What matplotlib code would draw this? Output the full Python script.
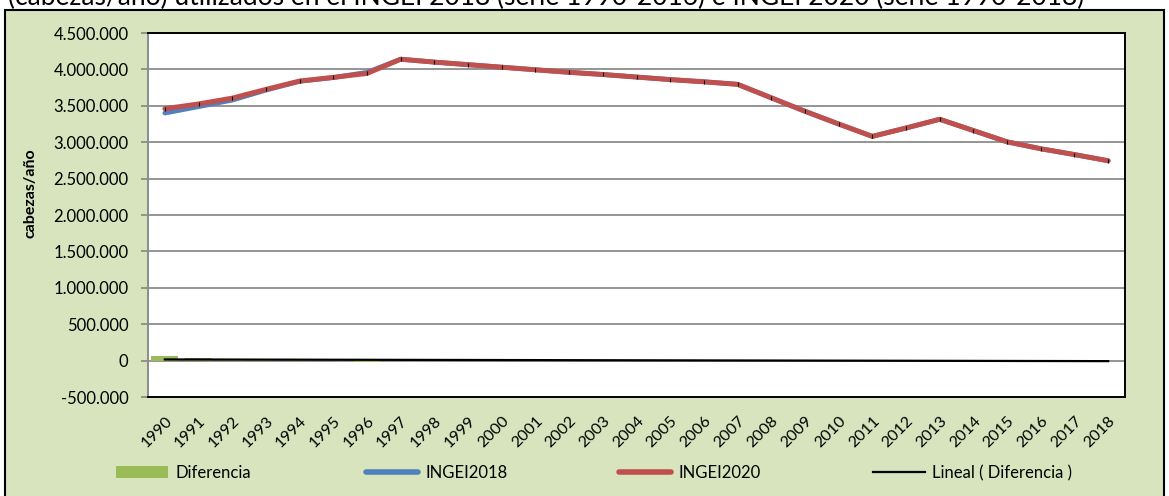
import matplotlib.pyplot as plt
import matplotlib.patches as mpatches
from matplotlib.lines import Line2D
from matplotlib.ticker import FuncFormatter
import numpy as np

plt.rcParams['font.family'] = ['Lato', 'DejaVu Sans']

years = [str(y) for y in range(1990, 2019)]
ingei2020 = [3460000, 3525000, 3605000, 3725000, 3840000, 3890000, 3945000, 4140000,
             4100000, 4065000, 4030000, 3995000, 3960000, 3930000, 3895000, 3860000,
             3830000, 3795000, 3610000, 3425000, 3250000, 3080000, 3195000, 3315000,
             3160000, 3005000, 2910000, 2830000, 2745000]
ingei2018 = [3400000, 3488000, 3578000, 3715000, 3836000, 3888000, 3960000, 4140000,
             4100000, 4065000, 4030000, 3995000, 3960000, 3930000, 3895000, 3860000,
             3830000, 3795000, 3610000, 3425000, 3250000, 3080000, 3195000, 3315000,
             3160000, 3005000, 2910000, 2830000, 2745000]
diferencia = [60000, 37000, 27000, 10000, 4000, 2000, -15000, 0,
              0, 0, 0, 0, 0, 0, 0, 0, 0, 0, 0, 0, 0, 0, 0, 0, 0, 0, 0, 0, 0]
yticks = list(range(-500000, 4500001, 500000))

BG = '#D7E4BD'
GREEN = '#9BBB59'
BLUE = '#4F81BD'
RED = '#C0504D'
GRID = '#8C8C8C'

fig = plt.figure(figsize=(11.69, 4.96), dpi=100)
fig.patch.set_facecolor('white')

# chart area box (behind the axes)
W, H = 1169, 496
fig.add_artist(mpatches.Rectangle((5 / W, -0.01), (1164 - 5) / W, (H - 10) / H + 0.01,
                                  transform=fig.transFigure, facecolor=BG,
                                  edgecolor='black', linewidth=1.5, zorder=-1))

fig.text(8 / W, 1 - 5 / H,
         '(cabezas/año) utilizados en el INGEI 2018 (serie 1990-2016) e INGEI 2020 (serie 1990-2018)',
         fontsize=19, va='baseline', ha='left')

ax = fig.add_axes([148 / W, 99 / H, 977 / W, 364 / H])
ax.set_facecolor('white')

x = np.arange(len(years))
ax.bar(x, diferencia, width=0.8, color=GREEN, zorder=2)
ax.plot(x, ingei2018, color=BLUE, lw=3.4, zorder=3, solid_capstyle='round')
ax.plot(x, ingei2020, color=RED, lw=3.6, zorder=4, solid_capstyle='round',
        marker='|', ms=2.2, mec='black', mew=0.8)

coef = np.polyfit(x, diferencia, 1)
ax.plot(x, np.polyval(coef, x), color='black', lw=1.6, zorder=5)

ax.set_xlim(-0.5, len(years) - 0.5)
ax.set_ylim(-500000, 4500000)
ax.set_yticks(yticks)
ax.yaxis.set_major_formatter(FuncFormatter(lambda v, p: f'{int(v):,}'.replace(',', '.')))
ax.grid(axis='y', color=GRID, lw=1.3, zorder=1)
ax.set_axisbelow(True)

ax.set_xticks(x)
ax.set_xticklabels(years, rotation=45, ha='right', va='top', rotation_mode='anchor')
ax.tick_params(axis='x', length=0, pad=12, labelsize=11.5)
ax.tick_params(axis='y', length=5, color=GRID, width=1.3, pad=9, labelsize=12)

for s in ['top', 'right', 'bottom']:
    ax.spines[s].set_color('black')
    ax.spines[s].set_linewidth(1.4)
ax.spines['left'].set_color(GRID)
ax.spines['left'].set_linewidth(1.4)

ax.set_ylabel('cabezas/año', fontsize=11.5, fontweight='bold')
ax.yaxis.set_label_coords(-(148 - 37) / 977, 0.56)

# legend entries, evenly spaced like the spreadsheet layout
handles = [
    (mpatches.Patch(facecolor=GREEN), 'Diferencia', 116),
    (Line2D([], [], color=BLUE, lw=4, solid_capstyle='round'), 'INGEI2018', 366),
    (Line2D([], [], color=RED, lw=4, solid_capstyle='round'), 'INGEI2020', 619),
    (Line2D([], [], color='black', lw=1.6), 'Lineal ( Diferencia )', 873),
]
for h, lab, px in handles:
    fig.legend([h], [lab], loc='center left', bbox_to_anchor=(px / W, (H - 473) / H),
               frameon=False, fontsize=12, handlelength=3.1, handletextpad=0.45,
               borderaxespad=0, borderpad=0)

fig.savefig('out.png', dpi=100)
